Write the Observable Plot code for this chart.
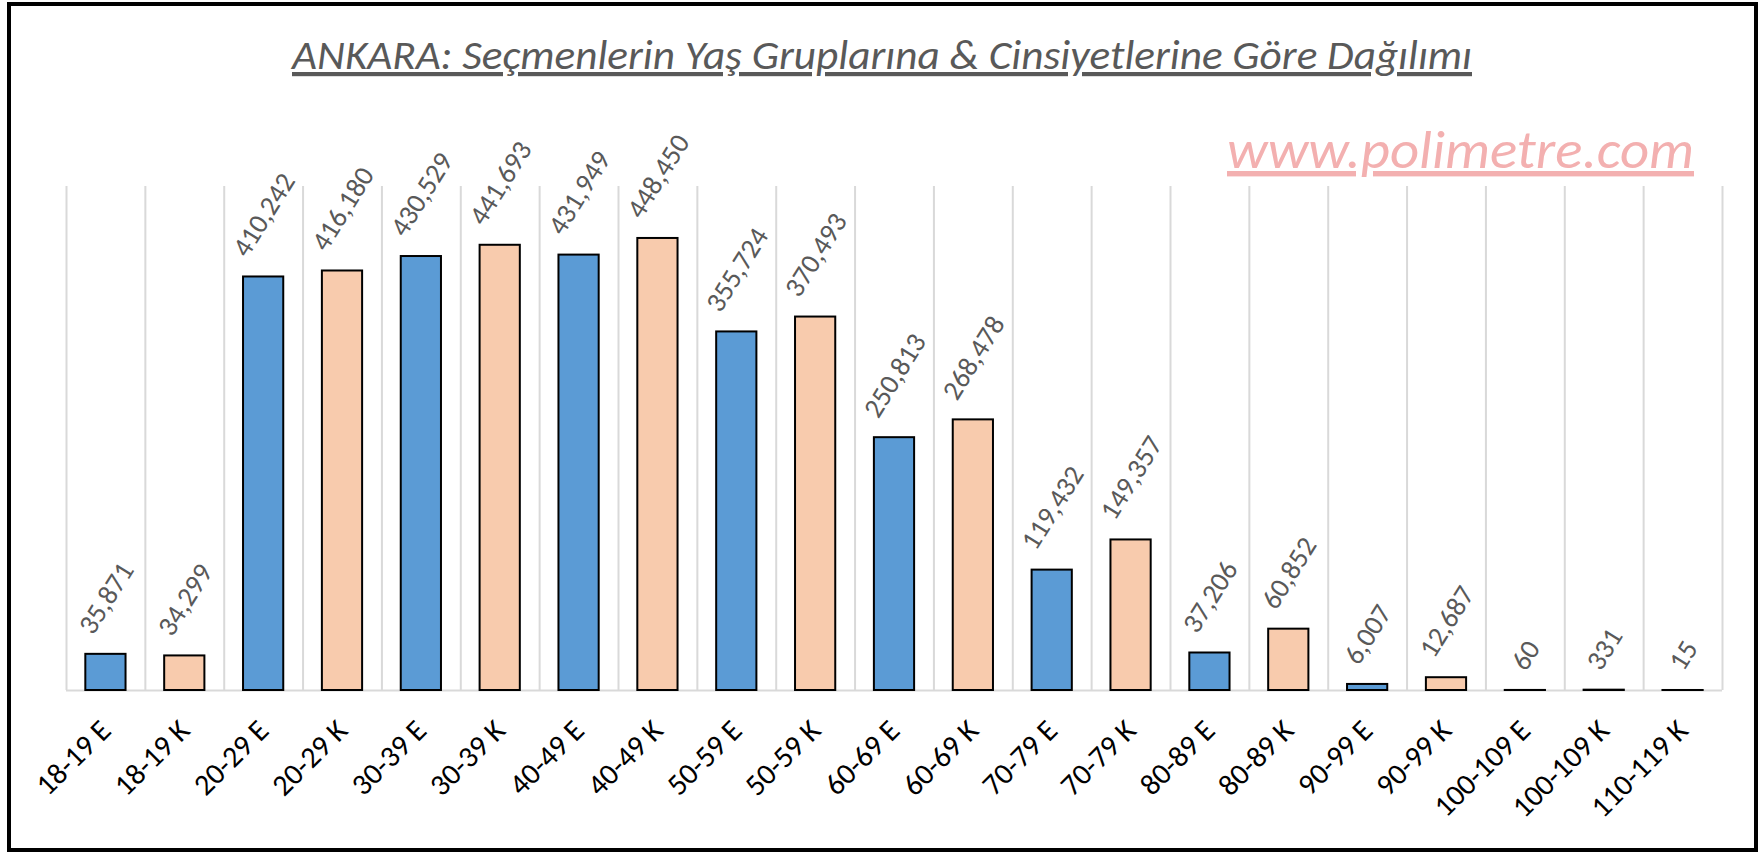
<!DOCTYPE html>
<html><head><meta charset="utf-8">
<script src="https://cdn.jsdelivr.net/npm/d3@7"></script>
<script src="https://cdn.jsdelivr.net/npm/@observablehq/plot@0.6"></script>
<style>
html,body{margin:0;padding:0;background:#fff;}
#wrap{position:relative;width:1759px;height:852px;overflow:hidden;}
#frame{position:absolute;left:7px;top:2px;width:1751px;height:850px;border:4px solid #000;box-sizing:border-box;pointer-events:none;}
#chart{position:absolute;left:0;top:0;}
</style></head><body>
<div id="wrap"><div id="chart"></div><div id="frame"></div></div>
<script>
const categories = ["18-19 E","18-19 K","20-29 E","20-29 K","30-39 E","30-39 K","40-49 E","40-49 K","50-59 E","50-59 K","60-69 E","60-69 K","70-79 E","70-79 K","80-89 E","80-89 K","90-99 E","90-99 K","100-109 E","100-109 K","110-119 K"];
const values = [35871,34299,410242,416180,430529,441693,431949,448450,355724,370493,250813,268478,119432,149357,37206,60852,6007,12687,60,331,15];
const genders = categories.map(c => c.endsWith("E") ? "E" : "K");
const genderKeys = ["E","K"];
const genderColors = ["#5B9BD5","#F8CBAD"];
const titleText = "ANKARA: Seçmenlerin Yaş Gruplarına & Cinsiyetlerine Göre Dağılımı";
const watermarkText = "www.polimetre.com";
const yMax = 500000;

const data = categories.map((c,i)=>({category:c, value:values[i], gender:genders[i]}));
const W=1759, H=852, mL=66, mR=37, mT=186, mB=162;
const step = (W-mL-mR)/categories.length;
const font = "Carlito, Calibri, Lato, sans-serif";
const fmt = d3.format(",");

const plot = Plot.plot({
  width: W, height: H, marginLeft: mL, marginRight: mR, marginTop: mT, marginBottom: mB,
  style: {fontFamily: font, background: "transparent", overflow: "visible"},
  x: {domain: categories, paddingInner: 0.49, paddingOuter: 0.245, round: false, label: null},
  y: {domain: [0, yMax], axis: null},
  color: {domain: genderKeys, range: genderColors},
  marks: [
    Plot.ruleX(categories, {x: d=>d, y1: 0, y2: yMax, dx: -step/2, stroke: "#d9d9d9", strokeWidth: 2}),
    Plot.ruleX([categories[categories.length-1]], {x: d=>d, y1: 0, y2: yMax, dx: step/2, stroke: "#d9d9d9", strokeWidth: 2}),
    Plot.ruleY([0], {stroke: "#d9d9d9", strokeWidth: 2}),
    Plot.barY(data, {x: "category", y: "value", fill: "gender", stroke: "#000", strokeWidth: 2}),
    Plot.text(data, {x: "category", y: "value", text: d => fmt(d.value), rotate: -58, fill: "#595959", fontSize: 28, textAnchor: "middle", lineAnchor: "middle"}),
    Plot.axisX({tickRotate: -45, tickSize: 0, tickPadding: 35, fontSize: 30, fill: "#000", label: null, textAnchor: "end", lineAnchor: "middle"})
  ]
});
document.getElementById("chart").appendChild(plot);

// place value labels so their rotated box sits centred just above each bar
const gap = 14;
d3.select(plot).selectAll('g[aria-label="text"] text').each(function(){
  const ctm = this.getScreenCTM();
  const ax = ctm.e, ay = ctm.f;           // anchor point (bar top, band centre) in screen space
  const r = this.getBoundingClientRect();
  const cx = (r.left + r.right)/2;
  const sx = ax - cx, sy = (ay - gap) - r.bottom;
  const t = this.getAttribute("transform") || "";
  this.setAttribute("transform", `translate(${sx},${sy}) ${t}`);
});

const svg = d3.select(plot);
svg.append("text")
  .attr("x", 292).attr("y", 69).attr("text-anchor", "start")
  .attr("textLength", 1180).attr("lengthAdjust", "spacingAndGlyphs")
  .style("font-family", font).style("font-style", "italic").style("font-size", "42px")
  .style("fill", "#595959").style("text-decoration", "underline")
  .text(titleText);
svg.append("text")
  .attr("x", 1227).attr("y", 168).attr("text-anchor", "start")
  .attr("textLength", 467).attr("lengthAdjust", "spacingAndGlyphs")
  .style("font-family", font).style("font-style", "italic").style("font-size", "54px")
  .style("fill", "#f3b0b0").style("text-decoration", "underline")
  .text(watermarkText);
</script>
</body></html>
